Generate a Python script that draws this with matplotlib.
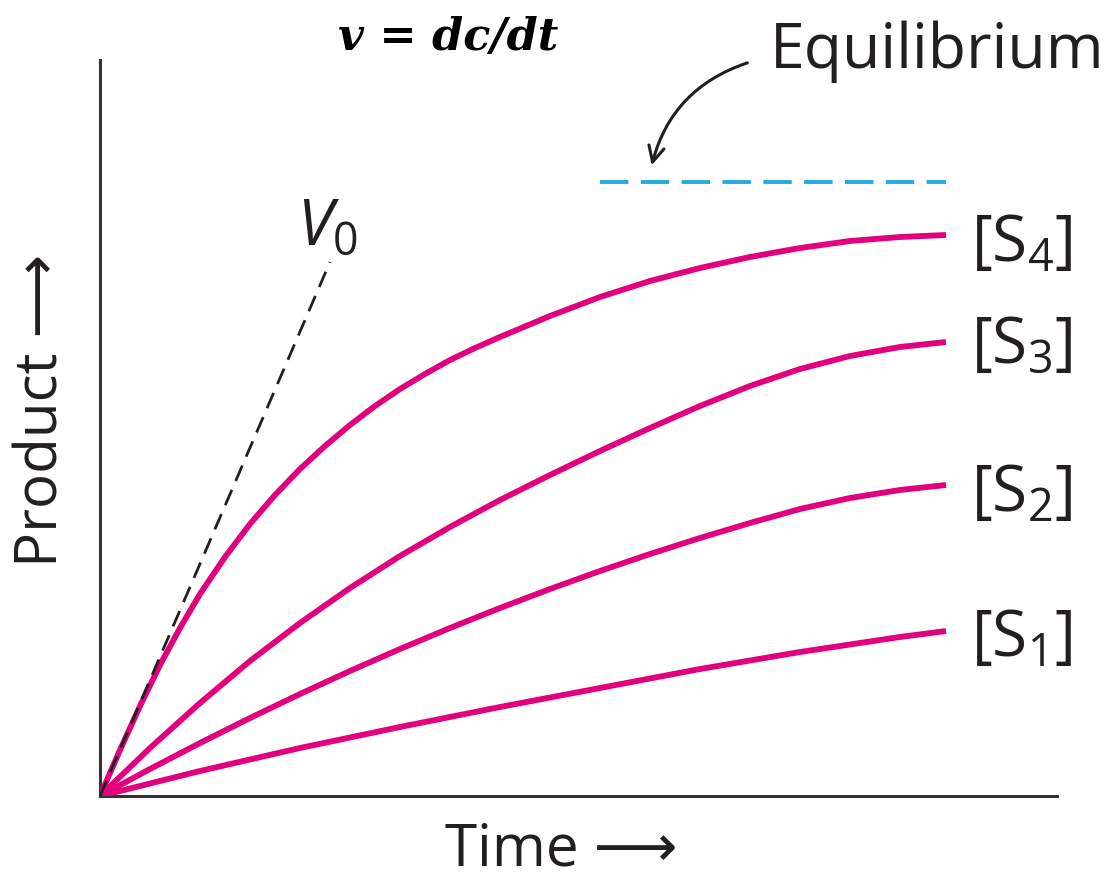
import numpy as np
import matplotlib
matplotlib.use("Agg")
import matplotlib.pyplot as plt

plt.rcParams['font.family'] = ['Open Sans', 'DejaVu Sans']
plt.rcParams['mathtext.fontset'] = 'custom'
plt.rcParams['mathtext.rm'] = 'Open Sans'
plt.rcParams['mathtext.it'] = 'Open Sans:italic'
plt.rcParams['mathtext.bf'] = 'Open Sans:bold'

# product vs time for four substrate concentrations (arbitrary units)
t_s4 = [0, 20, 40, 60, 80, 100, 125, 150, 175, 200, 225, 250, 275, 300, 325, 350, 375, 400,
        450, 500, 550, 600, 650, 700, 750, 800, 846]
p_s4 = [0, 46, 90, 131, 168, 202, 239, 272, 301, 327, 350, 371, 390, 407, 422, 436, 448, 459,
        480, 499, 515, 528, 539, 548, 555, 559, 561]

t_s3 = [0, 50, 100, 150, 200, 250, 300, 350, 400, 450, 500, 550, 600, 650, 700, 750, 800, 846]
p_s3 = [0, 48, 93, 135, 173, 208, 240, 269, 296, 321, 345, 368, 390, 410, 427, 440, 449, 454]

t_s2 = [0, 50, 100, 150, 200, 250, 300, 350, 400, 450, 500, 550, 600, 650, 700, 750, 800, 846]
p_s2 = [0, 27, 53, 78, 102, 125, 147, 168, 188, 207, 225, 242, 258, 273, 287, 298, 306, 311]

t_s1 = [0, 100, 200, 300, 400, 500, 600, 700, 800, 846]
p_s1 = [0, 25, 48, 69, 89, 108, 127, 144, 159, 165]

curve_labels = ["[S$_1$]", "[S$_2$]", "[S$_3$]", "[S$_4$]"]

# initial-rate tangent and equilibrium level
t_v0 = [0, 230]
p_v0 = [0, 534]
t_eq = [500, 846]
p_eq = [614, 614]

magenta = '#e2007c'
ink = '#231f20'

fig = plt.figure(figsize=(11.17, 8.77), dpi=100)
ax = fig.add_axes([100/1117, 1-796/877, 957/1117, 736/877])
ax.set_xlim(0, 957)
ax.set_ylim(0, 736)

curves = [(t_s1, p_s1), (t_s2, p_s2), (t_s3, p_s3), (t_s4, p_s4)]
for (tt, pp) in curves:
    ax.plot(tt, pp, color=magenta, lw=4.2, solid_capstyle='butt', solid_joinstyle='round', zorder=3)

ax.plot(t_v0, p_v0, color=ink, lw=2.0, dashes=(6, 3.5), zorder=4)
ax.plot(t_eq, p_eq, color='#25a9e0', lw=2.8, dashes=(7.3, 3.2), zorder=3)

# labels at the end of each curve
label_base = [139, 284, 433, 534]
for lab, yb in zip(curve_labels, label_base):
    ax.text(871, yb, lab, fontsize=46, color=ink, ha='left', va='baseline', clip_on=False)

ax.text(197, 551, "$V_0$", fontsize=46, color=ink, ha='left', va='baseline')

# arrow pointing to equilibrium line
ax.annotate("", xy=(551, 628), xytext=(650, 734), annotation_clip=False,
            arrowprops=dict(arrowstyle='->', color=ink, lw=2.2, mutation_scale=28,
                            connectionstyle='arc3,rad=0.28'))

fig.text(770/1117, 1-68/877, "Equilibrium", fontsize=45, color=ink, ha='left', va='baseline')
fig.text(448/1117, 1-50/877, "v = dc/dt", fontsize=32, family='DejaVu Serif',
         style='italic', weight='bold', color='black', ha='center', va='baseline')
fig.text(445/1117, 1-865/877, "Time \u27f6", fontsize=42, color=ink, ha='left', va='baseline')
fig.text(42/1117, 1-410/877, "Product \u27f6", fontsize=42, color=ink, rotation=90,
         ha='center', va='center')

for s in ['top', 'right']:
    ax.spines[s].set_visible(False)
for s in ['left', 'bottom']:
    ax.spines[s].set_color('#333333')
    ax.spines[s].set_linewidth(2.2)
ax.set_xticks([])
ax.set_yticks([])

fig.savefig("out.png", dpi=100)
